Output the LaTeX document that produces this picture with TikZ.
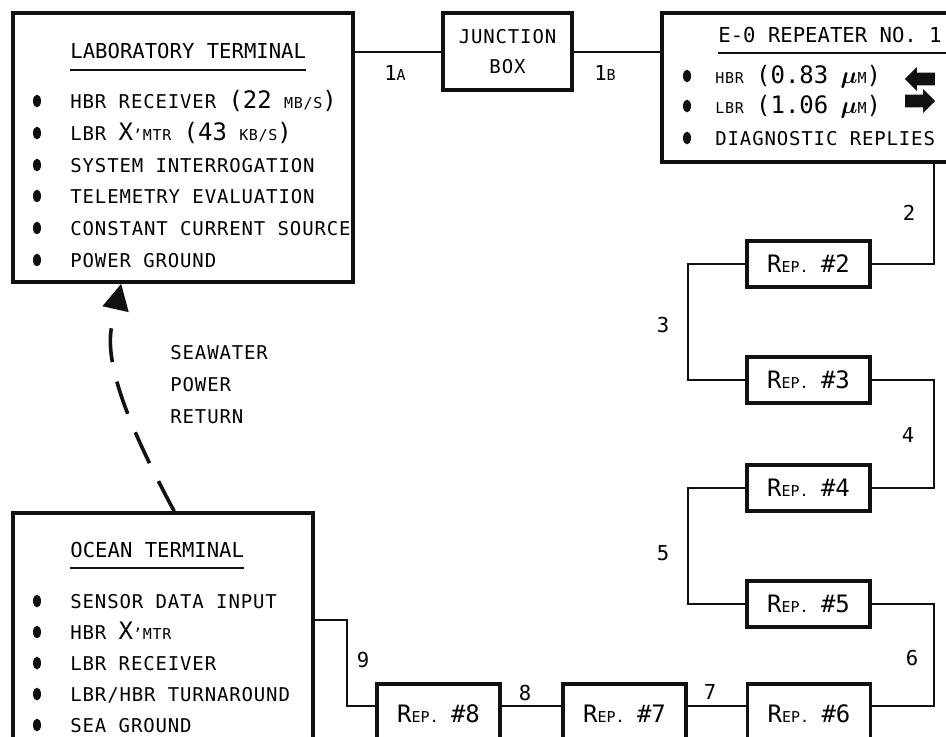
\documentclass[tikz,border=0pt]{standalone}
\usepackage{amsmath,amssymb}
\usepackage{fontspec}
\usepackage{xcolor}
\usepackage{tikz}
\usetikzlibrary{
  arrows.meta, shapes, positioning, calc
}
\newfontfamily\tyfont[LetterSpace=4.5]{DejaVu Sans Mono}
\newfontfamily\ttlfont{DejaVu Sans Mono}
\newcommand{\sml}[1]{{\fontsize{7.5}{9}\selectfont #1}}
\newcommand{\lrg}[1]{{\ttlfont\fontsize{12}{14}\selectfont #1}}
\definecolor{C_INK}{HTML}{111111}
\tikzset{
  %% -- terminal / repeater outlines --
  FIG/term/.style={draw=C_INK, line width=1.8pt, inner sep=0pt},
  FIG/rep/.style={
    draw=C_INK, line width=1.6pt, inner sep=0pt,
    minimum width=61.5pt, minimum height=23pt,
    font=\ttlfont\fontsize{10.3}{12}\selectfont
  },
  %% -- cable segments --
  FIG/link/.style={draw=C_INK, line width=1pt},
  %% -- text --
  FIG/body/.style={font=\tyfont\fontsize{9.5}{11}\selectfont, anchor=base west, inner sep=0pt},
  FIG/title/.style={font=\ttlfont\fontsize{10.3}{12}\selectfont, anchor=base west, inner sep=0pt},
  FIG/uline/.style={draw=C_INK, line width=0.8pt},
  FIG/num/.style={font=\ttlfont\fontsize{10.3}{12}\selectfont, inner sep=0pt},
  %% -- fat wavelength arrows --
  FIG/fat/.style={
    single arrow, fill=C_INK, inner sep=3pt,
    minimum width=11.5pt, minimum height=15pt, single arrow head extend=2.8pt
  },
  %% -- seawater return --
  FIG/ret/.style={
    draw=C_INK, line width=1.8pt, dash pattern=on 17pt off 10pt,
    -{Triangle[length=13pt,width=13pt]}
  },
}

\begin{document}
\begin{tikzpicture}[x=0.5pt, y=-0.5pt]

\useasboundingbox (0,0) rectangle (946,736);

%% ━━━━━━━━━━━━━━━━━━━━━━━━━━━━━━━━━━━━━━━━━━━━━━━━━━━━━━━━━━━━━━━━━━━━━
%%  LABORATORY TERMINAL
%% ━━━━━━━━━━━━━━━━━━━━━━━━━━━━━━━━━━━━━━━━━━━━━━━━━━━━━━━━━━━━━━━━━━━━━
\node[FIG/term, minimum width=170pt, minimum height=134.5pt] (lab) at (183,147.5) {};
\node[FIG/title] (labT) at (70,58) {LABORATORY TERMINAL};
\draw[FIG/uline] ([yshift=-6pt]labT.base west) -- ([yshift=-6pt]labT.base east);

\node[FIG/body] (lab1) at (70,108) {HBR RECEIVER \lrg{(22} \sml{MB/S}\lrg{)}};
\node[FIG/body] (lab2) at (70,140) {LBR \lrg{X}\sml{’MTR} \lrg{(43} \sml{KB/S}\lrg{)}};
\node[FIG/body] (lab3) at (70,172) {SYSTEM INTERROGATION};
\node[FIG/body] (lab4) at (70,203) {TELEMETRY EVALUATION};
\node[FIG/body] (lab5) at (70,235) {CONSTANT CURRENT SOURCE};
\node[FIG/body] (lab6) at (70,267) {POWER GROUND};
\foreach \yb in {101,133,165,196,228,260}
  \fill[C_INK] (37,\yb) ellipse [x radius=2pt, y radius=3.2pt];

%% ━━━━━━━━━━━━━━━━━━━━━━━━━━━━━━━━━━━━━━━━━━━━━━━━━━━━━━━━━━━━━━━━━━━━━
%%  JUNCTION BOX
%% ━━━━━━━━━━━━━━━━━━━━━━━━━━━━━━━━━━━━━━━━━━━━━━━━━━━━━━━━━━━━━━━━━━━━━
\node[FIG/term, line width=1.6pt, minimum width=64.5pt, minimum height=38.5pt,
      align=center, font=\tyfont\fontsize{9.5}{15}\selectfont]
  (jb) at (507.5,51.5) {JUNCTION\\BOX};

%% ━━━━━━━━━━━━━━━━━━━━━━━━━━━━━━━━━━━━━━━━━━━━━━━━━━━━━━━━━━━━━━━━━━━━━
%%  E-O REPEATER NO. 1
%% ━━━━━━━━━━━━━━━━━━━━━━━━━━━━━━━━━━━━━━━━━━━━━━━━━━━━━━━━━━━━━━━━━━━━━
\node[FIG/term, minimum width=144pt, minimum height=74.5pt] (eo) at (806,87.5) {};
\node[FIG/title] (eoT) at (718,42) {E-0 REPEATER NO. 1};
\draw[FIG/uline] ([yshift=-5.5pt]eoT.base west) -- ++(120pt,0pt);

\node[FIG/body] (eo1) at (715,83)
  {\sml{HBR} \lrg{(0.83} \lrg{$\boldsymbol{\mu}$}\sml{M}\lrg{)}};
\node[FIG/body] (eo2) at (715,113)
  {\sml{LBR} \lrg{(1.06} \lrg{$\boldsymbol{\mu}$}\sml{M}\lrg{)}};
\node[FIG/body] (eo3) at (715,145) {DIAGNOSTIC REPLIES};
\foreach \yb in {76,106,138}
  \fill[C_INK] (687,\yb) ellipse [x radius=2pt, y radius=3.2pt];

%% wavelength direction arrows
\node[FIG/fat, shape border rotate=180] (hbrA) at (923,79) {};
\node[FIG/fat] (lbrA) at (917,101) {};

%% ━━━━━━━━━━━━━━━━━━━━━━━━━━━━━━━━━━━━━━━━━━━━━━━━━━━━━━━━━━━━━━━━━━━━━
%%  REPEATER CHAIN
%% ━━━━━━━━━━━━━━━━━━━━━━━━━━━━━━━━━━━━━━━━━━━━━━━━━━━━━━━━━━━━━━━━━━━━━
\coordinate (rcol) at (934,0);  %% right-hand riser
\coordinate (lcol) at (688,0);  %% left-hand riser

\node[FIG/rep] (rep2) at (808.5,264) {\lrg{R}\sml{EP.} \lrg{\#2}};
\node[FIG/rep] (rep3) at (808.5,380) {\lrg{R}\sml{EP.} \lrg{\#3}};
\node[FIG/rep] (rep4) at (808.5,488) {\lrg{R}\sml{EP.} \lrg{\#4}};
\node[FIG/rep] (rep5) at (808.5,604) {\lrg{R}\sml{EP.} \lrg{\#5}};

%% bottom row runs off the sheet
\node[FIG/rep, minimum height=30pt] (rep6) at (809,714)   {\lrg{R}\sml{EP.} \lrg{\#6}};
\node[FIG/rep, minimum height=30pt] (rep7) at (624.5,714) {\lrg{R}\sml{EP.} \lrg{\#7}};
\node[FIG/rep, minimum height=30pt] (rep8) at (438.5,714) {\lrg{R}\sml{EP.} \lrg{\#8}};
\coordinate (r6e) at ([yshift=4pt]rep6.east);
\coordinate (r6w) at ([yshift=4pt]rep6.west);
\coordinate (r7e) at ([yshift=4pt]rep7.east);
\coordinate (r7w) at ([yshift=4pt]rep7.west);
\coordinate (r8e) at ([yshift=4pt]rep8.east);
\coordinate (r8w) at ([yshift=4pt]rep8.west);

%% ━━━━━━━━━━━━━━━━━━━━━━━━━━━━━━━━━━━━━━━━━━━━━━━━━━━━━━━━━━━━━━━━━━━━━
%%  OCEAN TERMINAL
%% ━━━━━━━━━━━━━━━━━━━━━━━━━━━━━━━━━━━━━━━━━━━━━━━━━━━━━━━━━━━━━━━━━━━━━
\node[FIG/term, minimum width=150pt, minimum height=118.5pt] (ocean) at (163,631.5) {};
\node[FIG/title] (ocT) at (70,557) {OCEAN TERMINAL};
\draw[FIG/uline] ([yshift=-5.5pt]ocT.base west) -- ([yshift=-5.5pt]ocT.base east);

\node[FIG/body] (oc1) at (70,608) {SENSOR DATA INPUT};
\node[FIG/body] (oc2) at (70,639) {HBR \lrg{X}\sml{’MTR}};
\node[FIG/body] (oc3) at (70,670) {LBR RECEIVER};
\node[FIG/body] (oc4) at (70,701) {LBR/HBR TURNAROUND};
\node[FIG/body] (oc5) at (70,732) {SEA GROUND};
\foreach \yb in {601,632,663,694,725}
  \fill[C_INK] (37,\yb) ellipse [x radius=2pt, y radius=3.2pt];

\coordinate (k9) at (347,620);

%% ━━━━━━━━━━━━━━━━━━━━━━━━━━━━━━━━━━━━━━━━━━━━━━━━━━━━━━━━━━━━━━━━━━━━━
%%  CABLE SEGMENTS
%% ━━━━━━━━━━━━━━━━━━━━━━━━━━━━━━━━━━━━━━━━━━━━━━━━━━━━━━━━━━━━━━━━━━━━━
\draw[FIG/link] (jb.west) -- (jb.west -| lab.east);
\draw[FIG/link] (jb.east) -- (jb.east -| eo.west);
\draw[FIG/link] (eo.south -| rcol) |- (rep2.east);
\draw[FIG/link] (rep2.west) -- (rep2.west -| lcol) |- (rep3.west);
\draw[FIG/link] (rep3.east) -- (rep3.east -| rcol) |- (rep4.east);
\draw[FIG/link] (rep4.west) -- (rep4.west -| lcol) |- (rep5.west);
\draw[FIG/link] (rep5.east) -- (rep5.east -| rcol) |- (r6e);
\draw[FIG/link] (r6w) -- (r7e);
\draw[FIG/link] (r7w) -- (r8e);
\draw[FIG/link] (k9 -| ocean.east) -- (k9) |- (r8w);

%% segment numbers
\node[FIG/num] (n1a) at (395,73) {1\sml{A}};
\node[FIG/num] (n1b) at (605,73) {1\sml{B}};
\node[FIG/num] (n2) at (909,213) {2};
\node[FIG/num] (n3) at (663,325) {3};
\node[FIG/num] (n4) at (908,435) {4};
\node[FIG/num] (n5) at (663,553) {5};
\node[FIG/num] (n6) at (912,658) {6};
\node[FIG/num] (n7) at (710,692) {7};
\node[FIG/num] (n8) at (525,693) {8};
\node[FIG/num] (n9) at (363,660) {9};

%% ━━━━━━━━━━━━━━━━━━━━━━━━━━━━━━━━━━━━━━━━━━━━━━━━━━━━━━━━━━━━━━━━━━━━━
%%  SEAWATER POWER RETURN
%% ━━━━━━━━━━━━━━━━━━━━━━━━━━━━━━━━━━━━━━━━━━━━━━━━━━━━━━━━━━━━━━━━━━━━━
\coordinate (swS) at ([xshift=81.5pt]ocean.north west);
\coordinate (swE) at ([xshift=55pt]lab.south west);
\draw[FIG/ret] (swS) .. controls (125,420) and (104,360) .. (112,325) -- (swE);
\node[FIG/body, anchor=north west, align=left,
      font=\tyfont\fontsize{9.5}{16}\selectfont]
  (sw) at (170,345) {SEAWATER\\POWER\\RETURN};

\end{tikzpicture}
\end{document}
